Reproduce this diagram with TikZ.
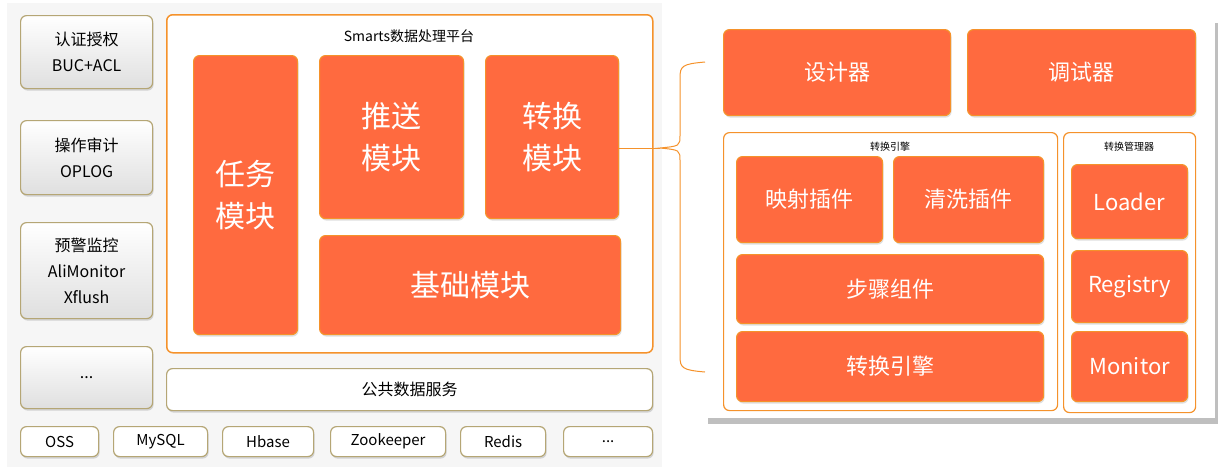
\documentclass[tikz,border=0pt]{standalone}
\usepackage{fontspec}
\setmainfont{Noto Sans CJK SC}
\usetikzlibrary{shadows}
\definecolor{boxfill}{HTML}{FF6A3F}
\definecolor{boxline}{HTML}{F5922B}
\definecolor{sideline}{HTML}{B5A675}
\begin{document}
\begin{tikzpicture}[x=1pt,y=-1pt,inner sep=0pt,
    box/.style={draw=boxline,line width=1.2pt,rounded corners=6pt,anchor=north west,align=center},
    module/.style={box,fill=boxfill,text=white,drop shadow={opacity=.25,shadow xshift=1pt,shadow yshift=-2pt}},
    frame/.style={box,fill=white,line width=1.5pt},
    side/.style={draw=sideline,line width=1.2pt,rounded corners=6pt,anchor=north west,align=center,
      top color=white,bottom color=gray!25,font=\fontsize{16}{26}\selectfont,
      drop shadow={opacity=.3,shadow xshift=1pt,shadow yshift=-2pt}},
    store/.style={side,top color=white,bottom color=white,font=\fontsize{15}{18}\selectfont}]
  \useasboundingbox (0,0) rectangle (1222,467);
  \fill[gray!7] (7,3) rectangle (662,467);

  % left column
  \node[side,minimum width=132pt,minimum height=73pt] (auth) at (20,15) {认证授权\\BUC+ACL};
  \node[side,minimum width=132pt,minimum height=74pt] (oplog) at (20,120) {操作审计\\OPLOG};
  \node[side,minimum width=132pt,minimum height=96pt] (monitor) at (20,222) {预警监控\\AliMonitor\\Xflush};
  \node[side,minimum width=132pt,minimum height=62pt] (more) at (20,346) {...};

  % platform
  \node[frame,minimum width=486pt,minimum height=338pt] (smarts) at (166,14) {};
  \node[font=\fontsize{14}{16}\selectfont] (title) at (409,36) {Smarts数据处理平台};
  \node[module,minimum width=104pt,minimum height=279pt,font=\fontsize{30}{42}\selectfont] (task) at (193,55) {任务\\模块};
  \node[module,minimum width=144pt,minimum height=163pt,font=\fontsize{30}{42}\selectfont] (push) at (319,55) {推送\\模块};
  \node[module,minimum width=133pt,minimum height=163pt,font=\fontsize{30}{42}\selectfont] (trans) at (485,55) {转换\\模块};
  \node[module,minimum width=301pt,minimum height=99pt,font=\fontsize{30}{36}\selectfont] (base) at (319,235) {基础模块};
  \node[side,top color=white,bottom color=white,minimum width=486pt,minimum height=42pt,font=\fontsize{16}{18}\selectfont] (common) at (166,368) {公共数据服务};

  % stores
  \node[store,minimum width=78pt,minimum height=30pt] (oss) at (20,426) {OSS};
  \node[store,minimum width=94pt,minimum height=30pt] (mysql) at (113,426) {MySQL};
  \node[store,minimum width=91pt,minimum height=30pt] (hbase) at (222,426) {Hbase};
  \node[store,minimum width=115pt,minimum height=30pt] (zk) at (330,426) {Zookeeper};
  \node[store,minimum width=85pt,minimum height=30pt] (redis) at (460,426) {Redis};
  \node[store,minimum width=89pt,minimum height=30pt] (etc) at (563,426) {...};

  % right panel
  \fill[white,drop shadow={opacity=.5,shadow xshift=3pt,shadow yshift=-6pt,shadow scale=1.0}] (705,17) rectangle (1215,418);
  \node[module,minimum width=227pt,minimum height=86pt,font=\fontsize{22}{26}\selectfont] (design) at (723,29) {设计器};
  \node[module,minimum width=228pt,minimum height=86pt,font=\fontsize{22}{26}\selectfont] (debug) at (967,29) {调试器};
  \node[frame,line width=1.2pt,minimum width=334pt,minimum height=278pt] (engine) at (723,132) {};
  \node[font=\fontsize{10}{12}\selectfont] (engtitle) at (890,147) {转换引擎};
  \node[module,minimum width=146pt,minimum height=86pt,font=\fontsize{22}{26}\selectfont] (map) at (736,156) {映射插件};
  \node[module,minimum width=150pt,minimum height=86pt,font=\fontsize{22}{26}\selectfont] (clean) at (893,156) {清洗插件};
  \node[module,minimum width=307pt,minimum height=69pt,font=\fontsize{22}{26}\selectfont] (step) at (736,254) {步骤组件};
  \node[module,minimum width=307pt,minimum height=70pt,font=\fontsize{22}{26}\selectfont] (core) at (736,331) {转换引擎};
  \node[frame,line width=1.2pt,minimum width=132pt,minimum height=280pt] (manager) at (1063,132) {};
  \node[font=\fontsize{10}{12}\selectfont] (mgrtitle) at (1129,147) {转换管理器};
  \node[module,minimum width=116pt,minimum height=74pt,font=\fontsize{22}{26}\selectfont] (loader) at (1071,164) {Loader};
  \node[module,minimum width=116pt,minimum height=72pt,font=\fontsize{22}{26}\selectfont] (registry) at (1071,250) {Registry};
  \node[module,minimum width=116pt,minimum height=70pt,font=\fontsize{22}{26}\selectfont] (mon) at (1071,331) {Monitor};

  % brace
  \coordinate (tip) at (660,148);
  \draw[boxline,line width=1pt] (trans.east |- tip) -- (tip);
  \draw[boxline,line width=1pt] (705,62) .. controls (682,64) and (680,66) .. (680,78)
    -- (680,135) .. controls (680,146) .. (tip)
    .. controls (680,150) .. (680,161) -- (680,356)
    .. controls (680,368) and (682,370) .. (705,372);
\end{tikzpicture}
\end{document}
